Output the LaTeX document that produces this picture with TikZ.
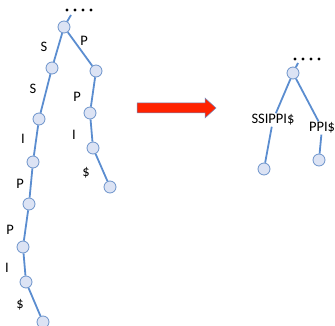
\documentclass[tikz,border=0pt]{standalone}
\usepackage{fontspec}
\setmainfont{Carlito}
\definecolor{edgeblue}{HTML}{5B8DD0}
\definecolor{nodefill}{HTML}{DCE3F4}
\definecolor{nodeline}{HTML}{6C93CB}
\definecolor{arrowred}{HTML}{FF2200}
\tikzset{
  vtx/.style={circle, draw=nodeline, fill=nodefill, line width=0.8pt, minimum size=12pt, inner sep=0pt},
  lbl/.style={font=\fontsize{14.5}{14.5}\selectfont, inner sep=1pt},
  edge/.style={draw=edgeblue, line width=1.8pt},
  dot/.style={circle, fill=black, minimum size=3.4pt, inner sep=0pt}
}
\begin{document}
\begin{tikzpicture}[x=1pt, y=-1pt]
  \useasboundingbox (0,0) rectangle (335,326);
  % full trie
  \foreach \i in {0,...,3}
    \node[dot] (ld\i) at (67+8*\i,10){};
  \node[vtx] (a0) at (64,27){};
  \node[vtx] (a1) at (52,68){};
  \node[vtx] (a2) at (39,119){};
  \node[vtx] (a3) at (33,162){};
  \node[vtx] (a4) at (29,204){};
  \node[vtx] (a5) at (23,247){};
  \node[vtx] (a6) at (26,282){};
  \node[vtx] (a7) at (43,322){};
  \node[vtx] (b1) at (96,71){};
  \node[vtx] (b2) at (90,113){};
  \node[vtx] (b3) at (93,148){};
  \node[vtx] (b4) at (110,187){};
  \draw[edge] (a0) -- (71,15);
  \draw[edge] (a0) -- (a1) -- (a2) -- (a3) -- (a4) -- (a5) -- (a6) -- (a7);
  \draw[edge] (a0) -- (b1) -- (b2) -- (b3) -- (b4);
  \node[lbl] (s1) at (44,47){S};
  \node[lbl] (s2) at (33,89){S};
  \node[lbl] (s3) at (23,139){I};
  \node[lbl] (s4) at (20,184){P};
  \node[lbl] (s5) at (10,230){P};
  \node[lbl] (s6) at (7,268){I};
  \node[lbl] (s7) at (20,305){\$};
  \node[lbl] (t1) at (84,41){P};
  \node[lbl] (t2) at (77,97){P};
  \node[lbl] (t3) at (74,135){I};
  \node[lbl] (t4) at (86,173){\$};
  % arrow between the two
  \filldraw[fill=arrowred, draw=nodeline, line width=0.5pt]
    (137,103) -- (205,103) -- (205,98) -- (216,108) -- (205,118)
    -- (205,113) -- (137,113) -- cycle;
  % compressed trie
  \foreach \i in {0,...,3}
    \node[dot] (rd\i) at (295+8*\i,59){};
  \node[vtx] (c0) at (293,73){};
  \node[vtx] (c1) at (264,169){};
  \node[vtx] (c2) at (319,160){};
  \node[lbl, fill=white] (u1) at (273,120){SSIPPI\$};
  \node[lbl, fill=white] (u2) at (322,128){PPI\$};
  \draw[edge] (c0) -- (298,63);
  \draw[edge] (c0) -- (u1) -- (c1);
  \draw[edge] (c0) -- (u2) -- (c2);
\end{tikzpicture}
\end{document}
